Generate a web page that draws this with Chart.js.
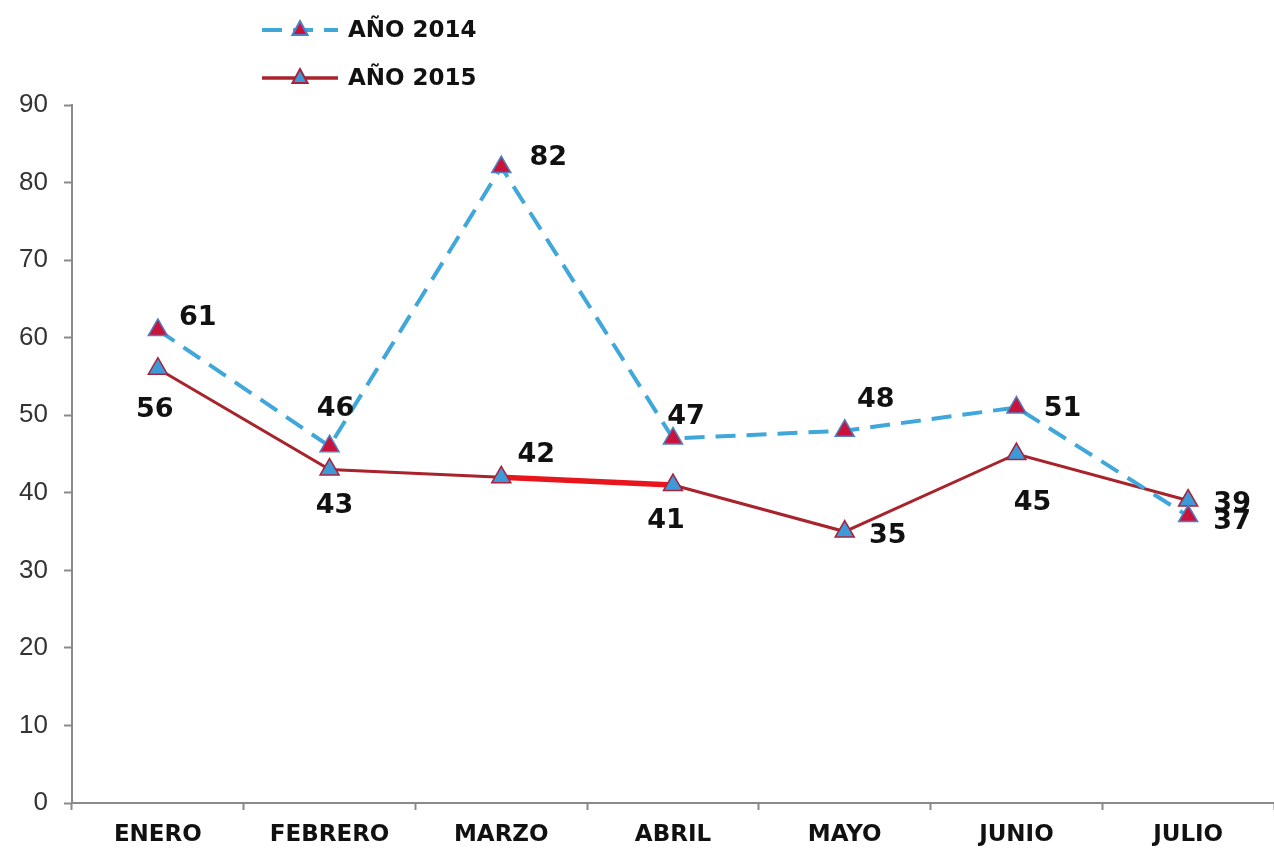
<!DOCTYPE html>
<html>
<head>
<meta charset="utf-8">
<script src="https://cdn.jsdelivr.net/npm/chart.js@4.4.1/dist/chart.umd.min.js"></script>
<style>
  html, body { margin: 0; padding: 0; background: #ffffff; overflow: hidden; }
  #wrap { width: 1274px; height: 851px; position: relative; }
</style>
</head>
<body>
<div id="wrap"><canvas id="c" width="1274" height="851"></canvas></div>
<script>
const categories = ['ENERO', 'FEBRERO', 'MARZO', 'ABRIL', 'MAYO', 'JUNIO', 'JULIO'];
const seriesNames = ['AÑO 2014', 'AÑO 2015'];
const values2014 = [61, 46, 82, 47, 48, 51, 37];
const values2015 = [56, 43, 42, 41, 35, 45, 39];
const yTicks = [0, 10, 20, 30, 40, 50, 60, 70, 80, 90];

// label offsets (pixels, relative to point) - presentation only
const labelOffsets = [
  [[40, -12], [6, -37], [47, -9], [13, -22], [31, -31], [46, 2], [44, 6]],
  [[-3, 41], [5, 36], [35, -22], [-7, 36], [43, 4], [16, 49], [44, 3]]
];

const labelFont = 'bold 27px "DejaVu Sans"';

const dataLabelPlugin = {
  id: 'dataLabels',
  afterDatasetsDraw(chart) {
    const ctx = chart.ctx;
    ctx.save();
    ctx.font = labelFont;
    ctx.fillStyle = '#111111';
    ctx.textAlign = 'center';
    ctx.textBaseline = 'middle';
    chart.data.datasets.forEach((ds, di) => {
      const meta = chart.getDatasetMeta(di);
      meta.data.forEach((pt, i) => {
        const off = labelOffsets[di][i];
        ctx.fillText(String(ds.data[i]), pt.x + off[0], pt.y + off[1]);
      });
    });
    ctx.restore();
  }
};

function drawTriangle(ctx, x, y, r, fill, stroke) {
  ctx.save();
  ctx.beginPath();
  ctx.moveTo(x, y - r);
  ctx.lineTo(x + r * 0.95, y + r * 0.75);
  ctx.lineTo(x - r * 0.95, y + r * 0.75);
  ctx.closePath();
  ctx.fillStyle = fill;
  ctx.fill();
  ctx.lineWidth = 2;
  ctx.strokeStyle = stroke;
  ctx.stroke();
  ctx.restore();
}

const legendPlugin = {
  id: 'customLegend',
  afterDraw(chart) {
    const ctx = chart.ctx;
    const items = chart.data.datasets;
    const x0 = 262, x1 = 338, rows = [30, 78];
    items.forEach((ds, i) => {
      const y = rows[i];
      ctx.save();
      ctx.strokeStyle = ds.borderColor;
      ctx.lineWidth = i === 0 ? 4 : 3.5;
      if (ds.borderDash) ctx.setLineDash(ds.borderDash);
      ctx.beginPath();
      ctx.moveTo(x0, y);
      ctx.lineTo(x1, y);
      ctx.stroke();
      ctx.restore();
      drawTriangle(ctx, 300, y - 1, 8, ds.pointBackgroundColor, ds.pointBorderColor);
      ctx.save();
      ctx.font = 'bold 23px "DejaVu Sans"';
      ctx.fillStyle = '#111111';
      ctx.textAlign = 'left';
      ctx.textBaseline = 'middle';
      ctx.fillText(ds.label, 348, y + 1);
      ctx.restore();
    });
  }
};

const ctx = document.getElementById('c').getContext('2d');
new Chart(ctx, {
  type: 'line',
  data: {
    labels: categories,
    datasets: [
      {
        label: seriesNames[0],
        data: values2014,
        borderColor: '#3fa7da',
        borderWidth: 4,
        borderDash: [20, 11],
        pointStyle: 'triangle',
        pointRadius: 11,
        pointBackgroundColor: '#c8143a',
        pointBorderColor: '#4f7fc4',
        pointBorderWidth: 1.5,
        tension: 0,
        fill: false
      },
      {
        label: seriesNames[1],
        data: values2015,
        borderColor: '#a8232b',
        borderWidth: 3,
        pointStyle: 'triangle',
        pointRadius: 11,
        pointBackgroundColor: '#3d9ad8',
        pointBorderColor: '#a8243e',
        pointBorderWidth: 1.5,
        tension: 0,
        fill: false,
        segment: {
          borderColor: c => c.p0DataIndex === 2 ? '#e8161c' : undefined,
          borderWidth: c => c.p0DataIndex === 2 ? 5.5 : undefined
        }
      }
    ]
  },
  options: {
    responsive: false,
    animation: false,
    devicePixelRatio: 1,
    layout: { autoPadding: false, padding: { top: 105, right: 0, left: 0, bottom: 0 } },
    plugins: {
      legend: { display: false },
      tooltip: { enabled: false },
      title: { display: false }
    },
    scales: {
      x: {
        offset: true,
        grid: {
          display: true,
          offset: true,
          drawOnChartArea: false,
          drawTicks: true,
          tickLength: 7,
          tickWidth: 2,
          tickColor: '#8a8a8a'
        },
        border: { display: true, color: '#8a8a8a', width: 2 },
        ticks: {
          color: '#111111',
          font: { family: 'DejaVu Sans', weight: 'bold', size: 23 },
          padding: 11,
          maxRotation: 0,
          autoSkip: false
        },
        afterFit: s => { s.height = 48; s.paddingRight = 0; s.paddingLeft = 0; }
      },
      y: {
        min: 0,
        max: 90,
        afterBuildTicks: s => { s.ticks = yTicks.map(v => ({ value: v })); },
        grid: {
          display: true,
          drawOnChartArea: false,
          drawTicks: true,
          tickLength: 8,
          tickWidth: 2,
          tickColor: '#8a8a8a'
        },
        border: { display: true, color: '#8a8a8a', width: 2 },
        ticks: {
          color: '#333333',
          font: { family: 'Liberation Sans', size: 26 },
          padding: 16
        },
        afterFit: s => { s.width = 72; }
      }
    }
  },
  plugins: [dataLabelPlugin, legendPlugin]
});
</script>
</body>
</html>
